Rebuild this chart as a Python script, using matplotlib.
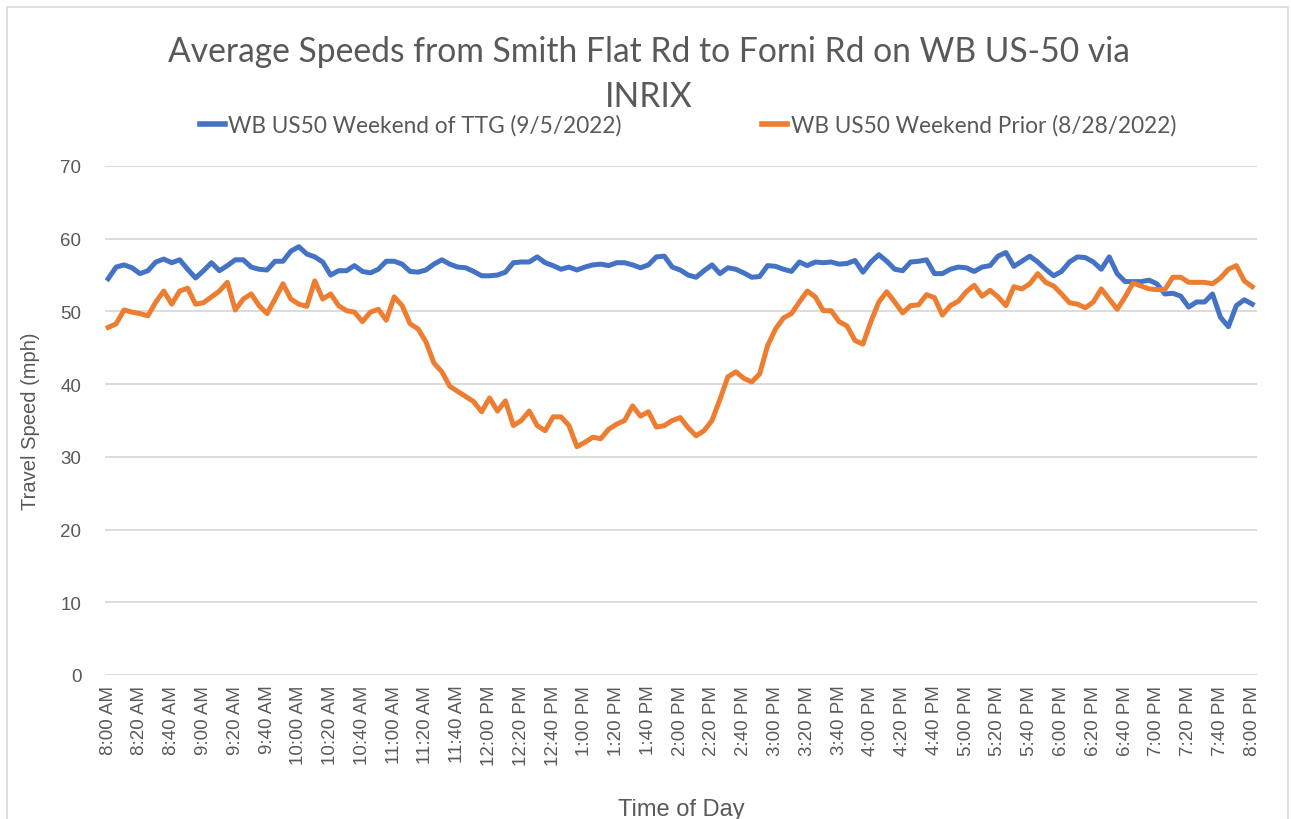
import numpy as np
import matplotlib
matplotlib.use('Agg')
import matplotlib.pyplot as plt
from matplotlib.lines import Line2D

# Average travel speed, 5-minute bins from 8:00 AM to 8:00 PM
speed_ttg = [
    54.5, 56.1, 56.4, 56.0, 55.2, 55.6, 56.8, 57.2, 56.7, 57.1, 55.8, 54.6,
    55.6, 56.7, 55.6, 56.3, 57.1, 57.1, 56.1, 55.8, 55.7, 56.9, 56.9, 58.3,
    58.9, 57.9, 57.5, 56.8, 55.0, 55.6, 55.6, 56.3, 55.5, 55.3, 55.8, 56.9,
    56.9, 56.5, 55.5, 55.4, 55.7, 56.5, 57.1, 56.5, 56.1, 56.0, 55.5, 54.9,
    54.9, 55.0, 55.4, 56.7, 56.8, 56.8, 57.5, 56.7, 56.3, 55.8, 56.1, 55.7,
    56.1, 56.4, 56.5, 56.3, 56.7, 56.7, 56.4, 56.0, 56.4, 57.5, 57.6, 56.1,
    55.7, 55.0, 54.7, 55.6, 56.4, 55.2, 56.0, 55.8, 55.3, 54.7, 54.8, 56.3,
    56.2, 55.8, 55.5, 56.8, 56.3, 56.8, 56.7, 56.8, 56.5, 56.6, 57.0, 55.4,
    56.8, 57.8, 56.9, 55.8, 55.6, 56.8, 56.9, 57.1, 55.2, 55.2, 55.8, 56.1,
    56.0, 55.5, 56.1, 56.3, 57.6, 58.1, 56.2, 56.9, 57.6, 56.8, 55.8, 54.9,
    55.5, 56.8, 57.5, 57.4, 56.8, 55.8, 57.5, 55.2, 54.1, 54.1, 54.1, 54.3,
    53.8, 52.4, 52.5, 52.1, 50.6, 51.3, 51.3, 52.4, 49.2, 47.9, 50.8, 51.6,
    51.0,
]

speed_prior = [
    47.8, 48.3, 50.2, 49.9, 49.7, 49.4, 51.3, 52.8, 51.0, 52.8, 53.2, 51.0,
    51.2, 52.0, 52.8, 54.0, 50.2, 51.7, 52.4, 50.8, 49.7, 51.7, 53.8, 51.7,
    51.0, 50.7, 54.2, 51.7, 52.4, 50.8, 50.1, 49.9, 48.6, 49.9, 50.3, 48.8,
    52.0, 50.8, 48.3, 47.6, 45.8, 42.9, 41.7, 39.7, 39.0, 38.3, 37.6, 36.2,
    38.1, 36.3, 37.7, 34.3, 35.0, 36.3, 34.3, 33.6, 35.5, 35.5, 34.3, 31.4,
    32.0, 32.7, 32.5, 33.8, 34.5, 35.0, 37.0, 35.6, 36.2, 34.1, 34.3, 35.0,
    35.4, 34.0, 32.9, 33.6, 35.0, 37.9, 41.0, 41.7, 40.8, 40.3, 41.4, 45.3,
    47.6, 49.1, 49.7, 51.3, 52.8, 52.0, 50.1, 50.1, 48.6, 48.0, 46.0, 45.5,
    48.6, 51.3, 52.7, 51.3, 49.8, 50.8, 50.9, 52.3, 51.9, 49.5, 50.8, 51.4,
    52.7, 53.6, 52.1, 52.9, 52.0, 50.8, 53.4, 53.1, 53.8, 55.2, 54.0, 53.5,
    52.4, 51.2, 51.0, 50.5, 51.3, 53.1, 51.7, 50.3, 52.0, 53.9, 53.5, 53.1,
    53.0, 53.0, 54.7, 54.7, 54.0, 54.0, 54.0, 53.8, 54.6, 55.8, 56.3, 54.2,
    53.4,
]

# one label every 20 minutes (every 4th bin)
time_labels = [
    "8:00 AM", "8:20 AM", "8:40 AM", "9:00 AM", "9:20 AM", "9:40 AM",
    "10:00 AM", "10:20 AM", "10:40 AM", "11:00 AM", "11:20 AM", "11:40 AM",
    "12:00 PM", "12:20 PM", "12:40 PM", "1:00 PM", "1:20 PM", "1:40 PM",
    "2:00 PM", "2:20 PM", "2:40 PM", "3:00 PM", "3:20 PM", "3:40 PM",
    "4:00 PM", "4:20 PM", "4:40 PM", "5:00 PM", "5:20 PM", "5:40 PM",
    "6:00 PM", "6:20 PM", "6:40 PM", "7:00 PM", "7:20 PM", "7:40 PM",
    "8:00 PM",
]
y_ticks = [0, 10, 20, 30, 40, 50, 60, 70]

series_names = ["WB US50 Weekend of TTG (9/5/2022)",
                "WB US50 Weekend Prior (8/28/2022)"]
BLUE = '#4472C4'
ORANGE = '#ED7D31'
TEXT = '#595959'
GRID = '#D9D9D9'

W, H = 1291, 820
fig = plt.figure(figsize=(W / 100, H / 100), dpi=100)

# chart border
border = plt.Rectangle((7 / W, -0.05), 1281 / W, 1.05 - 8 / H,
                       transform=fig.transFigure, fill=False,
                       edgecolor=GRID, lw=1.2)
fig.patches.append(border)

ax = fig.add_axes([105 / W, (H - 676) / H, 1152 / W, 509 / H])
x = np.arange(len(speed_ttg))
ax.plot(x, speed_ttg, color=BLUE, lw=3.6, solid_joinstyle='round', zorder=3)
ax.plot(x, speed_prior, color=ORANGE, lw=3.6, solid_joinstyle='round', zorder=3)

ax.set_xlim(-0.4, len(x) - 1 + 0.6)
ax.set_ylim(0, 70)
ax.set_yticks(y_ticks)
ax.set_xticks(np.arange(0, len(x), 4))
ax.set_xticklabels(time_labels, rotation=90, va='top', ha='center')
ax.grid(axis='y', color=GRID, lw=1.3)
ax.set_axisbelow(True)
for s in ax.spines.values():
    s.set_visible(False)
ax.tick_params(length=0, colors=TEXT, labelsize=13.5, pad=7)
for lab in ax.get_xticklabels() + ax.get_yticklabels():
    lab.set_fontfamily('Liberation Sans')
ax.tick_params(axis='y', pad=17)

ax.set_ylabel('Travel Speed (mph)', fontsize=14.5, color=TEXT,
              family='Liberation Sans', labelpad=15)
ax.set_xlabel('Time of Day', fontsize=17, color=TEXT,
              family='Liberation Sans', labelpad=24)

fig.text(649 / W, 1 - 52 / H,
         'Average Speeds from Smith Flat Rd to Forni Rd on WB US-50 via',
         ha='center', va='center', fontsize=24.2, color=TEXT, family='Lato')
fig.text(649 / W, 1 - 97 / H, 'INRIX',
         ha='center', va='center', fontsize=24.2, color=TEXT, family='Lato')

handles = [Line2D([], [], color=BLUE, lw=4),
           Line2D([], [], color=ORANGE, lw=4)]
fig.legend(handles, series_names, loc='center', ncol=2,
           bbox_to_anchor=(688 / W, 1 - 126 / H), frameon=False,
           handlelength=1.1, handletextpad=0.15, columnspacing=6.2,
           prop={'family': 'Lato', 'size': 16.3}, labelcolor=TEXT)

fig.savefig('out.png', dpi=100)
